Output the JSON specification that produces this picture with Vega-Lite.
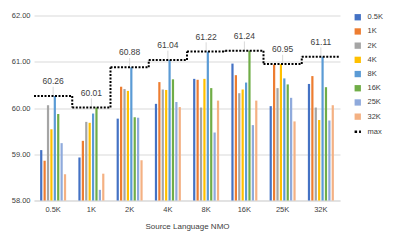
{
  "$schema": "https://vega.github.io/schema/vega-lite/v6.json",
  "width": 306,
  "height": 185,
  "autosize": {"type": "none"},
  "padding": {"left": 34, "top": 15.5, "right": 57, "bottom": 44.5},
  "background": "white",
  "config": {
    "view": {"stroke": null},
    "font": "Liberation Sans",
    "axis": {"labelFont": "Liberation Sans", "titleFont": "Liberation Sans"}
  },
  "datasets": {
    "bars": [
      {"g": "0.5K", "s": "0.5K", "v": 59.09}, {"g": "0.5K", "s": "1K", "v": 58.86}, {"g": "0.5K", "s": "2K", "v": 60.06}, {"g": "0.5K", "s": "4K", "v": 59.54},
      {"g": "0.5K", "s": "8K", "v": 60.26}, {"g": "0.5K", "s": "16K", "v": 59.87}, {"g": "0.5K", "s": "25K", "v": 59.24}, {"g": "0.5K", "s": "32K", "v": 58.57},
      {"g": "1K", "s": "0.5K", "v": 58.93}, {"g": "1K", "s": "1K", "v": 59.29}, {"g": "1K", "s": "2K", "v": 59.70}, {"g": "1K", "s": "4K", "v": 59.68},
      {"g": "1K", "s": "8K", "v": 59.88}, {"g": "1K", "s": "16K", "v": 60.01}, {"g": "1K", "s": "25K", "v": 58.23}, {"g": "1K", "s": "32K", "v": 58.58},
      {"g": "2K", "s": "0.5K", "v": 59.77}, {"g": "2K", "s": "1K", "v": 60.46}, {"g": "2K", "s": "2K", "v": 60.41}, {"g": "2K", "s": "4K", "v": 60.37},
      {"g": "2K", "s": "8K", "v": 60.88}, {"g": "2K", "s": "16K", "v": 59.80}, {"g": "2K", "s": "25K", "v": 59.79}, {"g": "2K", "s": "32K", "v": 58.87},
      {"g": "4K", "s": "0.5K", "v": 60.09}, {"g": "4K", "s": "1K", "v": 60.56}, {"g": "4K", "s": "2K", "v": 60.40}, {"g": "4K", "s": "4K", "v": 60.39},
      {"g": "4K", "s": "8K", "v": 61.04}, {"g": "4K", "s": "16K", "v": 60.62}, {"g": "4K", "s": "25K", "v": 60.13}, {"g": "4K", "s": "32K", "v": 60.02},
      {"g": "8K", "s": "0.5K", "v": 60.63}, {"g": "8K", "s": "1K", "v": 60.61}, {"g": "8K", "s": "2K", "v": 60.01}, {"g": "8K", "s": "4K", "v": 60.63},
      {"g": "8K", "s": "8K", "v": 61.22}, {"g": "8K", "s": "16K", "v": 60.43}, {"g": "8K", "s": "25K", "v": 59.47}, {"g": "8K", "s": "32K", "v": 60.16},
      {"g": "16K", "s": "0.5K", "v": 60.96}, {"g": "16K", "s": "1K", "v": 60.71}, {"g": "16K", "s": "2K", "v": 60.32}, {"g": "16K", "s": "4K", "v": 60.40},
      {"g": "16K", "s": "8K", "v": 60.55}, {"g": "16K", "s": "16K", "v": 61.24}, {"g": "16K", "s": "25K", "v": 59.63}, {"g": "16K", "s": "32K", "v": 60.16},
      {"g": "25K", "s": "0.5K", "v": 60.04}, {"g": "25K", "s": "1K", "v": 60.94}, {"g": "25K", "s": "2K", "v": 60.43}, {"g": "25K", "s": "4K", "v": 60.95},
      {"g": "25K", "s": "8K", "v": 60.64}, {"g": "25K", "s": "16K", "v": 60.51}, {"g": "25K", "s": "25K", "v": 60.22}, {"g": "25K", "s": "32K", "v": 59.71},
      {"g": "32K", "s": "0.5K", "v": 60.52}, {"g": "32K", "s": "1K", "v": 60.69}, {"g": "32K", "s": "2K", "v": 60.01}, {"g": "32K", "s": "4K", "v": 59.74},
      {"g": "32K", "s": "8K", "v": 61.11}, {"g": "32K", "s": "16K", "v": 60.45}, {"g": "32K", "s": "25K", "v": 59.73}, {"g": "32K", "s": "32K", "v": 60.06}
    ],
    "maxes": [
      {"g": "0.5K", "max": 60.26, "next": 60.01, "lead": 60.46},
      {"g": "1K", "max": 60.01, "next": 60.88, "lead": 60.21},
      {"g": "2K", "max": 60.88, "next": 61.04, "lead": 61.08},
      {"g": "4K", "max": 61.04, "next": 61.22, "lead": 61.24},
      {"g": "8K", "max": 61.22, "next": 61.24, "lead": 61.42},
      {"g": "16K", "max": 61.24, "next": 60.95, "lead": 61.44},
      {"g": "25K", "max": 60.95, "next": 61.11, "lead": 61.15},
      {"g": "32K", "max": 61.11, "next": null, "lead": 61.31}
    ]
  },
  "encoding": {
    "x": {
      "field": "g", "type": "nominal",
      "sort": ["0.5K", "1K", "2K", "4K", "8K", "16K", "25K", "32K"],
      "scale": {"paddingInner": 0.32, "paddingOuter": 0.16},
      "axis": {
        "title": "Source Language NMO", "titleFontSize": 8, "titleFontWeight": "normal", "titleColor": "#404040", "titlePadding": 9,
        "labelAngle": 0, "labelFontSize": 7.5, "labelColor": "#404040", "labelPadding": 5,
        "ticks": false, "domainColor": "#d9d9d9", "domainWidth": 1, "grid": false
      }
    },
    "y": {
      "type": "quantitative",
      "scale": {"domain": [58, 62], "nice": false, "zero": false},
      "axis": {
        "title": null, "values": [58, 59, 60, 61, 62], "format": ".2f",
        "labelFontSize": 7.5, "labelColor": "#404040", "labelPadding": 4,
        "ticks": false, "domain": false, "gridColor": "#d9d9d9", "gridWidth": 1
      }
    }
  },
  "layer": [
    {
      "data": {"name": "bars"},
      "mark": {"type": "bar"},
      "encoding": {
        "xOffset": {"field": "s", "type": "nominal", "sort": ["0.5K", "1K", "2K", "4K", "8K", "16K", "25K", "32K"], "scale": {"paddingInner": 0.35}},
        "y": {"field": "v", "type": "quantitative"},
        "y2": {"datum": 58},
        "color": {
          "field": "s", "type": "nominal",
          "scale": {
            "domain": ["0.5K", "1K", "2K", "4K", "8K", "16K", "25K", "32K", "max"],
            "range": ["#4472C4", "#ED7D31", "#A5A5A5", "#FFC000", "#5B9BD5", "#70AD47", "#8FAADC", "#F4B183", "#000000"]
          },
          "legend": {
            "title": null, "orient": "none", "legendX": 320, "legendY": -2,
            "labelFontSize": 7.5, "labelColor": "#404040", "symbolSize": 40, "symbolType": "square",
            "rowPadding": 5.2, "labelOffset": 6, "padding": 0,
            "encode": {
              "symbols": {
                "update": {
                  "shape": {"signal": "datum.value === 'max' ? 'stroke' : 'square'"},
                  "stroke": {"signal": "datum.value === 'max' ? '#000000' : 'transparent'"},
                  "strokeWidth": {"signal": "datum.value === 'max' ? 2.5 : 0"},
                  "strokeDash": {"signal": "datum.value === 'max' ? [2.5, 2] : []"}
                }
              }
            }
          }
        }
      }
    },
    {
      "data": {"name": "maxes"},
      "mark": {"type": "rule", "color": "#d9d9d9", "strokeWidth": 1},
      "encoding": {
        "x": {"field": "g", "type": "nominal", "bandPosition": 0.5, "sort": ["0.5K", "1K", "2K", "4K", "8K", "16K", "25K", "32K"]},
        "y": {"field": "max", "type": "quantitative"},
        "y2": {"field": "lead"}
      }
    },
    {
      "data": {"name": "maxes"},
      "mark": {"type": "rule", "strokeWidth": 2, "strokeDash": [2, 1.5]},
      "encoding": {
        "x": {"field": "g", "type": "nominal", "bandPosition": -0.235, "sort": ["0.5K", "1K", "2K", "4K", "8K", "16K", "25K", "32K"]},
        "x2": {"field": "g", "bandPosition": 1.235},
        "y": {"field": "max", "type": "quantitative"},
        "color": {"datum": "max"}
      }
    },
    {
      "data": {"name": "maxes"},
      "transform": [{"filter": "datum.next != null"}],
      "mark": {"type": "rule", "strokeWidth": 2, "strokeDash": [2, 1.5]},
      "encoding": {
        "x": {"field": "g", "type": "nominal", "bandPosition": 1.235, "sort": ["0.5K", "1K", "2K", "4K", "8K", "16K", "25K", "32K"]},
        "y": {"field": "max", "type": "quantitative"},
        "y2": {"field": "next"},
        "color": {"datum": "max"}
      }
    },
    {
      "data": {"name": "maxes"},
      "mark": {"type": "text", "fontSize": 8.5, "color": "#404040", "dy": -15, "baseline": "middle"},
      "encoding": {
        "x": {"field": "g", "type": "nominal", "bandPosition": 0.5, "sort": ["0.5K", "1K", "2K", "4K", "8K", "16K", "25K", "32K"]},
        "y": {"field": "max", "type": "quantitative"},
        "text": {"field": "max", "type": "quantitative", "format": ".2f"}
      }
    }
  ]
}
